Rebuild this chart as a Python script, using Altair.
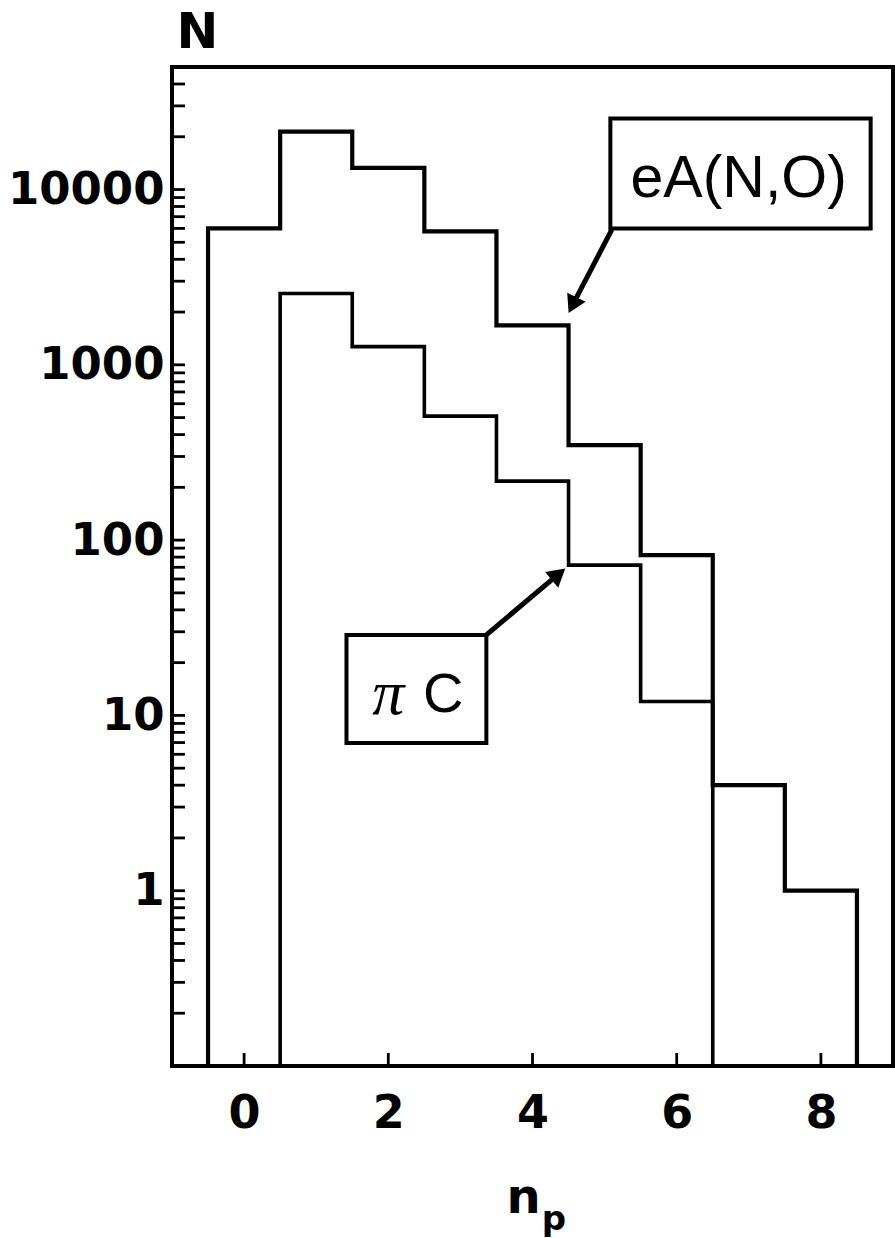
import altair as alt
import pandas as pd

# ---------------- data ----------------
bins_eA = [0, 1, 2, 3, 4, 5, 6, 7, 8]
counts_eA = [6000, 21400, 13300, 5770, 1680, 348, 82, 4.0, 1.0]
bins_piC = [1, 2, 3, 4, 5, 6]
counts_piC = [2550, 1270, 510, 217, 72, 12]

y_min, y_max = 0.1, 50000
x_min, x_max = -1, 9
y_label_values = [1, 10, 100, 1000, 10000]
x_label_values = [0, 2, 4, 6, 8]
minor_mantissas = [1, 2, 3, 4, 5, 6, 7, 8, 9]
decades = [0.1, 1, 10, 100, 1000, 10000]

# annotation boxes / labels / arrows (data coordinates)
eA_box = {"x": 5.08, "x2": 8.69, "y": 6000, "y2": 25400}
eA_label = {"x": 6.86, "y": 11550, "text": "eA(N,O)"}
eA_arrow = {"x": [5.10, 4.555], "y": [5900, 2190], "angle": 206}
piC_box = {"x": 1.42, "x2": 3.36, "y": 6.97, "y2": 28.8}
pi_label = {"x": 2.0, "y": 13.1, "text": "π"}
C_label = {"x": 2.76, "y": 13.1, "text": "C"}
piC_arrow = {"x": [3.36, 4.36], "y": [28.8, 64], "angle": 50}


def step_table(bins, counts, name):
    rows = [(bins[0] - 0.5, y_min)]
    for b, c in zip(bins, counts):
        rows.append((b - 0.5, c))
        rows.append((b + 0.5, c))
    rows.append((bins[-1] + 0.5, y_min))
    return pd.DataFrame({"x": [r[0] for r in rows], "y": [r[1] for r in rows],
                         "i": list(range(len(rows))), "s": name})


df_eA = step_table(bins_eA, counts_eA, "eA")
df_piC = step_table(bins_piC, counts_piC, "piC")

xs = alt.Scale(domain=[x_min, x_max], nice=False, zero=False)
ys = alt.Scale(type="log", domain=[y_min, y_max], nice=False)

lab_font = "DejaVu Sans"

x_axis = alt.Axis(values=x_label_values, format="d", ticks=False, domain=False, grid=False,
                  labelFont=lab_font, labelFontWeight="bold", labelFontSize=46,
                  labelPadding=25, labelColor="black",
                  title="n", titleFont=lab_font, titleFontWeight="bold", titleFontSize=48,
                  titleColor="black", titleX=351, titleY=146, titleAlign="center",
                  titleBaseline="alphabetic")
y_axis = alt.Axis(values=y_label_values, format="d", ticks=False, domain=False, grid=False,
                  labelFont=lab_font, labelFontWeight="bold", labelFontSize=45,
                  labelPadding=8, labelColor="black",
                  title="N", titleFont=lab_font, titleFontWeight="bold", titleFontSize=50,
                  titleColor="black", titleAngle=0, titleX=25, titleY=-35,
                  titleAlign="center", titleBaseline="middle")

h_eA = alt.Chart(df_eA).mark_line(color="black", strokeWidth=4.2).encode(
    x=alt.X("x:Q", scale=xs, axis=x_axis),
    y=alt.Y("y:Q", scale=ys, axis=y_axis),
    order="i:Q",
)
h_piC = alt.Chart(df_piC).mark_line(color="black", strokeWidth=3.6).encode(
    x=alt.X("x:Q", scale=xs),
    y=alt.Y("y:Q", scale=ys),
    order="i:Q",
)

# subscript of the x title
sub_p = alt.Chart(pd.DataFrame({"t": ["p"]})).mark_text(
    font=lab_font, fontWeight="bold", fontSize=34, color="black",
    align="center", baseline="alphabetic"
).encode(x=alt.value(382), y=alt.value(1163), text="t:N")

# inward ticks
y_ticks = sorted({round(m * d, 6) for m in minor_mantissas for d in decades if y_min < m * d <= y_max * 0.99})
df_yt = pd.DataFrame({"v": y_ticks})
yt = alt.Chart(df_yt).mark_rule(color="black", strokeWidth=2.8).encode(
    y=alt.Y("v:Q", scale=ys), x=alt.value(0), x2=alt.value(13)
)
df_xt = pd.DataFrame({"v": x_label_values})
xt = alt.Chart(df_xt).mark_rule(color="black", strokeWidth=2.8).encode(
    x=alt.X("v:Q", scale=xs), y=alt.value(999), y2=alt.value(986)
)

# annotation boxes
boxes = alt.Chart(pd.DataFrame([eA_box, piC_box])).mark_rect(
    fill="white", fillOpacity=0, stroke="black", strokeWidth=4
).encode(
    x=alt.X("x:Q", scale=xs), x2="x2:Q", y=alt.Y("y:Q", scale=ys), y2="y2:Q"
)

eA_text = alt.Chart(pd.DataFrame([eA_label])).mark_text(
    font="Liberation Sans", fontSize=59, color="black", baseline="middle", align="center"
).encode(x=alt.X("x:Q", scale=xs), y=alt.Y("y:Q", scale=ys), text="text:N")
pi_text = alt.Chart(pd.DataFrame([pi_label])).mark_text(
    font="Liberation Serif", fontStyle="italic", fontSize=64, color="black",
    baseline="middle", align="center"
).encode(x=alt.X("x:Q", scale=xs), y=alt.Y("y:Q", scale=ys), text="text:N")
C_text = alt.Chart(pd.DataFrame([C_label])).mark_text(
    font="Liberation Sans", fontSize=56, color="black", baseline="middle", align="center"
).encode(x=alt.X("x:Q", scale=xs), y=alt.Y("y:Q", scale=ys), text="text:N")


def arrow(spec, name):
    d = pd.DataFrame({"x": spec["x"], "y": spec["y"], "i": [0, 1], "a": name})
    shaft = alt.Chart(d).mark_line(color="black", strokeWidth=5).encode(
        x=alt.X("x:Q", scale=xs), y=alt.Y("y:Q", scale=ys), order="i:Q"
    )
    head = alt.Chart(d.iloc[[1]]).mark_point(
        shape="triangle-up", size=420, filled=True, color="black", opacity=1,
        angle=spec["angle"]
    ).encode(x=alt.X("x:Q", scale=xs), y=alt.Y("y:Q", scale=ys))
    return shaft + head


chart = alt.layer(
    h_eA, h_piC, yt, xt, boxes, eA_text, pi_text, C_text, sub_p,
    arrow(eA_arrow, "eA"), arrow(piC_arrow, "piC"),
).properties(
    width=721, height=999,
    autosize=alt.AutoSizeParams(type="none"),
    padding={"left": 172, "top": 67, "right": 2, "bottom": 172},
    background="white",
).configure_view(
    stroke="black", strokeWidth=4
)

chart.save("out.html", embed_options={"renderer": "svg", "actions": False})
